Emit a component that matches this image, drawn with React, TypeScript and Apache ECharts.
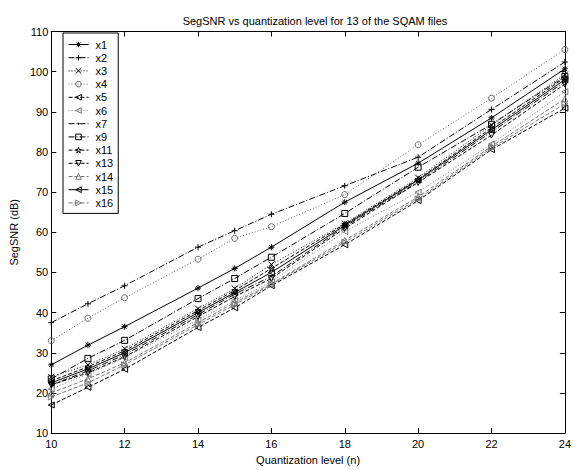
import React, { useEffect, useRef } from "react";
import * as echarts from "echarts";

const xLevels = [10, 11, 12, 14, 15, 16, 18, 20, 22, 24];
const xTicks = [10, 12, 14, 16, 18, 20, 22, 24];
const yTicks = [10, 20, 30, 40, 50, 60, 70, 80, 90, 100, 110];

const x1 = [27, 31.9, 36.5, 46.1, 51, 56.3, 67.5, 77.2, 88.5, 100.7];
const x2 = [37.5, 42.2, 46.7, 56.3, 60.4, 64.5, 71.6, 78.7, 90.6, 102.4];
const x3 = [24, 27, 31, 41, 46, 52, 62.2, 73.6, 86.7, 99.3];
const x4 = [33, 38.6, 43.7, 53.3, 58.5, 61.4, 69.4, 81.8, 93.4, 105.5];
const x5 = [17, 21.4, 25.9, 36.3, 41.2, 46.7, 56.9, 67.9, 80.6, 90.9];
const x6 = [21, 24.7, 28.8, 38.2, 43, 47.7, 60.2, 70, 82, 95];
const x7 = [22, 25.5, 29.5, 39.5, 44.6, 49, 61.4, 72.6, 85, 97.5];
const x9 = [23.5, 28.6, 33.1, 43.5, 48.5, 53.8, 64.7, 76.2, 86.9, 98.8];
const x11 = [23, 26.5, 30.5, 40.5, 45.5, 51, 62, 73.2, 86, 98.5];
const x13 = [22, 25, 29, 39, 44, 48.5, 61, 72.4, 84.2, 96.9];
const x14 = [20, 23.5, 27.5, 37.5, 42.5, 47.2, 58, 68.8, 81.4, 93.2];
const x15 = [22.5, 26, 30, 40, 45, 50, 61.7, 73, 85.5, 98];
const x16 = [19, 22.5, 27, 37, 42, 47, 57.5, 68.3, 81, 92];

const seriesNames = ["x1", "x2", "x3", "x4", "x5", "x6", "x7", "x9", "x11", "x13", "x14", "x15", "x16"];
const seriesValues = [x1, x2, x3, x4, x5, x6, x7, x9, x11, x13, x14, x15, x16];

const SYM = {
  star: "path://M5,0L5,10M0,5L10,5M1.5,1.5L8.5,8.5M8.5,1.5L1.5,8.5",
  plus: "path://M5,0L5,10M0,5L10,5",
  cross: "path://M1,1L9,9M9,1L1,9",
  pent: "path://M5,0L6.2,3.6L10,3.6L6.9,5.9L8.1,9.5L5,7.3L1.9,9.5L3.1,5.9L0,3.6L3.8,3.6Z",
  down: "path://M0,1L10,1L5,9.5Z",
  up: "path://M0,9L10,9L5,0.5Z",
  left: "path://M0.5,5L9,0.5L9,9.5Z",
  right: "path://M9.5,5L1,0.5L1,9.5Z",
  dot: "path://M0,0L0,0M10,10L10,10M4.2,4.2L5.8,4.2L5.8,5.8L4.2,5.8Z",
};

const styles: any[] = [
  { sym: SYM.star, type: "solid", color: "#000" },
  { sym: SYM.plus, type: [6, 2, 1, 2], color: "#000" },
  { sym: SYM.cross, type: [1, 2], color: "#000" },
  { sym: "circle", type: [1, 2], color: "#666" },
  { sym: SYM.left, type: [4, 2], color: "#000" },
  { sym: SYM.left, type: [1, 2], color: "#777" },
  { sym: SYM.dot, type: [6, 2, 1, 2], color: "#000", point: true },
  { sym: "rect", type: [6, 2, 1, 2], color: "#000" },
  { sym: SYM.pent, type: [4, 2], color: "#000" },
  { sym: SYM.down, type: [4, 2], color: "#000" },
  { sym: SYM.up, type: [4, 2], color: "#777" },
  { sym: SYM.left, type: "solid", color: "#000" },
  { sym: SYM.right, type: [4, 2], color: "#777" },
];

export default function App() {
  const ref = useRef<HTMLDivElement>(null);
  useEffect(() => {
    if (!ref.current) return;
    const chart = echarts.init(ref.current, undefined, { renderer: "svg" });
    const font = "'Liberation Sans', Arial, sans-serif";
    const itemStyleOf = (st: any) => ({
      color: st.point ? st.color : "none",
      borderColor: st.color,
      borderWidth: 1,
    });
    const series = seriesNames.map((name, i) => {
      const st = styles[i];
      return {
        name,
        type: "line",
        xAxisIndex: 0,
        yAxisIndex: 0,
        data: xLevels.map((x, j) => [x, seriesValues[i][j]]),
        symbol: st.sym,
        symbolSize: 6,
        showAllSymbol: true,
        lineStyle: { color: st.color, width: 1, type: st.type },
        itemStyle: itemStyleOf(st),
        emphasis: { disabled: true },
      };
    });
    const legendData = seriesNames.map((name, i) => {
      const st = styles[i];
      return {
        name,
        itemStyle: itemStyleOf(st),
        lineStyle: { color: st.color, width: 1, type: st.type },
      };
    });
    const labelStyle = { color: "#000", fontSize: 11, fontFamily: font };
    chart.setOption({
      animation: false,
      title: {
        text: "SegSNR vs quantization level for 13 of the SQAM files",
        left: 310,
        top: 10,
        textAlign: "center",
        textStyle: { color: "#000", fontSize: 11, fontWeight: "normal", fontFamily: font },
      },
      grid: { left: 44.5, right: 8, top: 31.5, bottom: 30, containLabel: false },
      legend: {
        orient: "vertical",
        left: 63,
        top: 33,
        itemWidth: 20,
        itemHeight: 7,
        itemGap: 2.2,
        padding: [6, 5, 5, 5],
        borderColor: "#000",
        borderWidth: 1,
        backgroundColor: "#fff",
        textStyle: { ...labelStyle, padding: [0, 0, 0, 2] },
        data: legendData,
      },
      xAxis: [
        {
          type: "value",
          min: 10,
          max: 24,
          interval: 2,
          name: "Quantization level (n)",
          nameLocation: "middle",
          nameGap: 19,
          nameTextStyle: { ...labelStyle },
          axisLine: { lineStyle: { color: "#000", width: 1 } },
          axisTick: { inside: true, length: 5, lineStyle: { color: "#000" } },
          axisLabel: { ...labelStyle, margin: 5, customValues: xTicks },
          splitLine: { show: false },
        },
        {
          type: "value",
          min: 10,
          max: 24,
          interval: 2,
          position: "top",
          axisLine: { lineStyle: { color: "#000", width: 1 } },
          axisTick: { inside: true, length: 5, lineStyle: { color: "#000" } },
          axisLabel: { show: false },
          splitLine: { show: false },
        },
      ],
      yAxis: [
        {
          type: "value",
          min: 10,
          max: 110,
          interval: 10,
          name: "SegSNR (dB)",
          nameLocation: "middle",
          nameGap: 28,
          nameTextStyle: { ...labelStyle },
          axisLine: { show: true, lineStyle: { color: "#000", width: 1 } },
          axisTick: { show: true, inside: true, length: 5, lineStyle: { color: "#000" } },
          axisLabel: { ...labelStyle, margin: 3, customValues: yTicks },
          splitLine: { show: false },
        },
        {
          type: "value",
          min: 10,
          max: 110,
          interval: 10,
          position: "right",
          axisLine: { show: true, lineStyle: { color: "#000", width: 1 } },
          axisTick: { show: true, inside: true, length: 5, lineStyle: { color: "#000" } },
          axisLabel: { show: false },
          splitLine: { show: false },
        },
      ],
      series,
    });
    return () => chart.dispose();
  }, []);
  return (
    <div
      ref={ref}
      style={{ position: "absolute", left: 0, top: 0, width: 574, height: 470, background: "#fff" }}
    />
  );
}
